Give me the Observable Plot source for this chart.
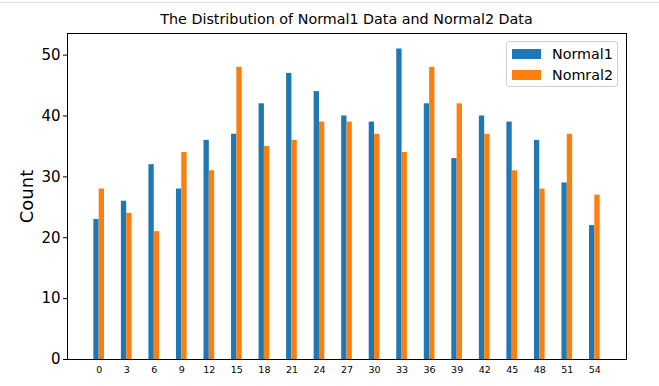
<!DOCTYPE html>
<html>
<head>
<meta charset="utf-8">
<script src="https://cdn.jsdelivr.net/npm/d3@7"></script>
<script src="https://cdn.jsdelivr.net/npm/@observablehq/plot@0.6"></script>
<style>
  html, body { margin: 0; padding: 0; background: #fff; }
  body { width: 659px; height: 386px; overflow: hidden; font-family: "DejaVu Sans", sans-serif; }
  #wrap { position: relative; width: 659px; height: 386px; }
  #topline { position: absolute; left: 0; top: 2px; width: 659px; height: 1px; background: #dcdcdc; }
  #title { position: absolute; left: 67px; top: 11px; width: 559px; text-align: center; font-size: 14.3px; color: #000; }
  #legend { position: absolute; left: 506px; top: 41px; width: 112px; height: 46px; border: 1px solid #d0d0d0; border-radius: 3px; background: rgba(255,255,255,0.8); box-sizing: border-box; }
  .entry { position: absolute; left: 5px; height: 20px; display: flex; align-items: center; font-size: 14.3px; color: #000; }
  .swatch { width: 29px; height: 10px; margin-right: 11px; }
</style>
</head>
<body>
<div id="wrap">
  <div id="topline"></div>
  <div id="chart"></div>
  <div id="title"></div>
  <div id="legend"></div>
</div>
<script>
const categories = [0, 3, 6, 9, 12, 15, 18, 21, 24, 27, 30, 33, 36, 39, 42, 45, 48, 51, 54];
const normal1 = [23, 26, 32, 28, 36, 37, 42, 47, 44, 40, 39, 51, 42, 33, 40, 39, 36, 29, 22];
const normal2 = [28, 24, 21, 34, 31, 48, 35, 36, 39, 39, 37, 34, 48, 42, 37, 31, 28, 37, 27];
const seriesNames = ["Normal1", "Nomral2"];
const seriesColors = ["#1f77b4", "#ff7f0e"];
const yTicks = [0, 10, 20, 30, 40, 50];
const titleText = "The Distribution of Normal1 Data and Normal2 Data";
const yLabel = "Count";

const barW = 0.58;
const d1 = categories.map((c, i) => ({cat: c, value: normal1[i]}));
const d2 = categories.map((c, i) => ({cat: c, value: normal2[i]}));

const chart = Plot.plot({
  width: 659,
  height: 386,
  marginTop: 33,
  marginBottom: 27,
  marginLeft: 67,
  marginRight: 33,
  style: {fontFamily: "DejaVu Sans, sans-serif", color: "#000", background: "transparent", overflow: "visible"},
  x: {domain: [-3.45, 57.45]},
  y: {domain: [0, 53.55]},
  marks: [
    Plot.rectY(d1, {x1: d => d.cat - barW, x2: d => d.cat, y: "value", fill: seriesColors[0]}),
    Plot.rectY(d2, {x1: d => d.cat, x2: d => d.cat + barW, y: "value", fill: seriesColors[1]}),
    Plot.axisX({ticks: categories, tickSize: 0, tickPadding: 7, fontSize: 9.5, tickFormat: d => String(d), label: null}),
    Plot.axisY({ticks: yTicks, tickSize: 4, tickPadding: 3, fontSize: 15, label: null}),
    Plot.axisY({ticks: [], tickSize: 0, label: yLabel, labelAnchor: "center", labelArrow: "none", labelOffset: 47, fontSize: 18}),
    Plot.frame({stroke: "#000", strokeWidth: 1})
  ]
});
document.getElementById("chart").appendChild(chart);
document.getElementById("title").textContent = titleText;

const legend = document.getElementById("legend");
seriesNames.forEach((name, i) => {
  const e = document.createElement("div");
  e.className = "entry";
  e.style.top = (2 + i * 21) + "px";
  const s = document.createElement("div");
  s.className = "swatch";
  s.style.background = seriesColors[i];
  const t = document.createElement("span");
  t.textContent = name;
  e.appendChild(s);
  e.appendChild(t);
  legend.appendChild(e);
});
</script>
</body>
</html>
